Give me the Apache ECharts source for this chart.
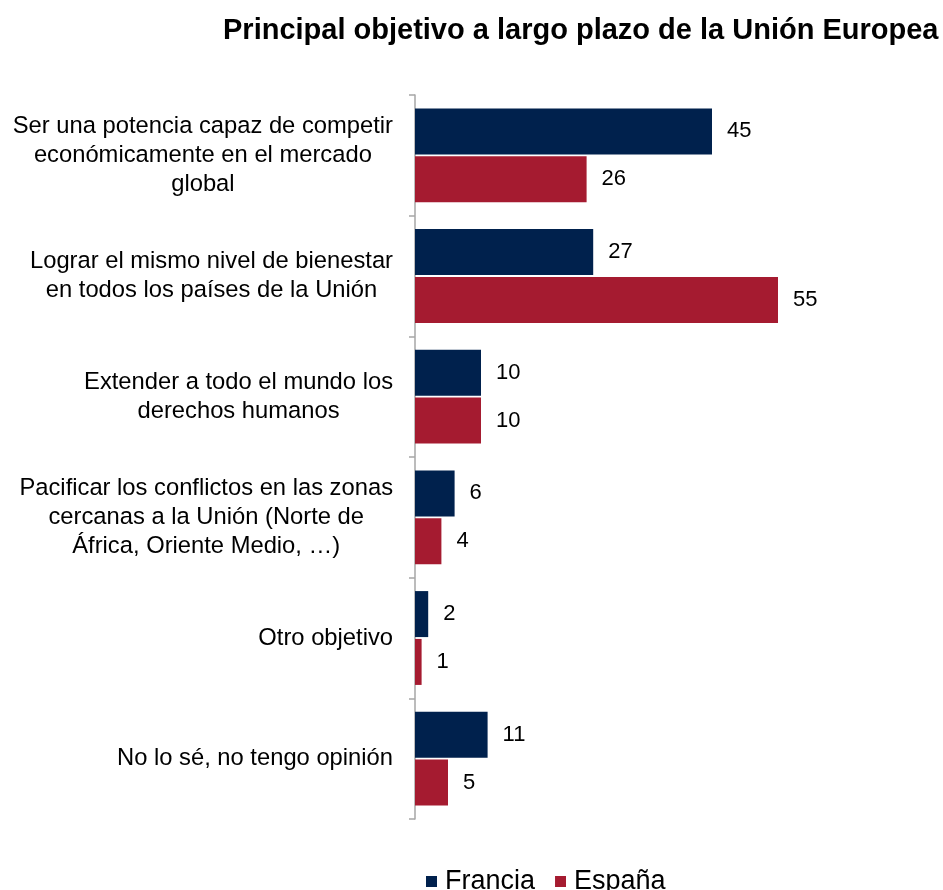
<!DOCTYPE html>
<html>
<head>
<meta charset="utf-8">
<script src="https://cdn.jsdelivr.net/npm/echarts@6/dist/echarts.min.js"></script>
<style>html,body{margin:0;padding:0;background:#fff;}#c{width:943px;height:890px;}</style>
</head>
<body>
<div id="c"></div>
<script>
const titleText = 'Principal objetivo a largo plazo de la Unión Europea';
const categories = [
  'Ser una potencia capaz de competir\neconómicamente en el mercado\nglobal',
  'Lograr el mismo nivel de bienestar\nen todos los países de la Unión',
  'Extender a todo el mundo los\nderechos humanos',
  'Pacificar los conflictos en las zonas\ncercanas a la Unión (Norte de\nÁfrica, Oriente Medio, …)',
  'Otro objetivo',
  'No lo sé, no tengo opinión'
];
const seriesNames = ['Francia', 'España'];
const francia = [45, 27, 10, 6, 2, 11];
const espana = [26, 55, 10, 4, 1, 5];
const colors = ['#00214D', '#A51B30'];

const FONT = '"Liberation Sans", Arial, sans-serif';
const chart = echarts.init(document.getElementById('c'));
const labelStyle = {show: true, position: 'right', distance: 15, color: '#000', fontSize: 22, fontFamily: FONT};
chart.setOption({
  animation: false,
  title: {
    text: titleText, left: 218, top: 11,
    textStyle: {fontSize: 29, fontWeight: 'bold', color: '#000', fontFamily: FONT}
  },
  legend: {
    data: seriesNames, left: 421, top: 863, icon: 'rect', itemWidth: 11, itemHeight: 11, itemGap: 20,
    textStyle: {fontSize: 27, color: '#000', fontFamily: FONT, padding: [0, 0, 0, 3]}
  },
  grid: {left: 415, right: 132, top: 95, bottom: 71},
  xAxis: {type: 'value', min: 0, max: 60, show: false},
  yAxis: {
    type: 'category', data: categories, inverse: true,
    axisLine: {lineStyle: {color: '#A6A6A6', width: 1.5}},
    axisTick: {show: true, length: 6, lineStyle: {color: '#A6A6A6', width: 1.5}},
    axisLabel: {
      margin: 22, align: 'right', color: '#000', fontFamily: FONT, fontSize: 23.75,
      formatter: v => v.split('\n').map(l => '{c|' + l + '}').join('\n'),
      rich: {c: {align: 'center', fontSize: 23.75, lineHeight: 29, fontFamily: FONT, color: '#000'}}
    }
  },
  series: [
    {name: seriesNames[0], type: 'bar', data: francia, barWidth: 46, barGap: '4%', itemStyle: {color: colors[0]}, label: labelStyle},
    {name: seriesNames[1], type: 'bar', data: espana, barWidth: 46, itemStyle: {color: colors[1]}, label: labelStyle}
  ]
});
</script>
</body>
</html>
